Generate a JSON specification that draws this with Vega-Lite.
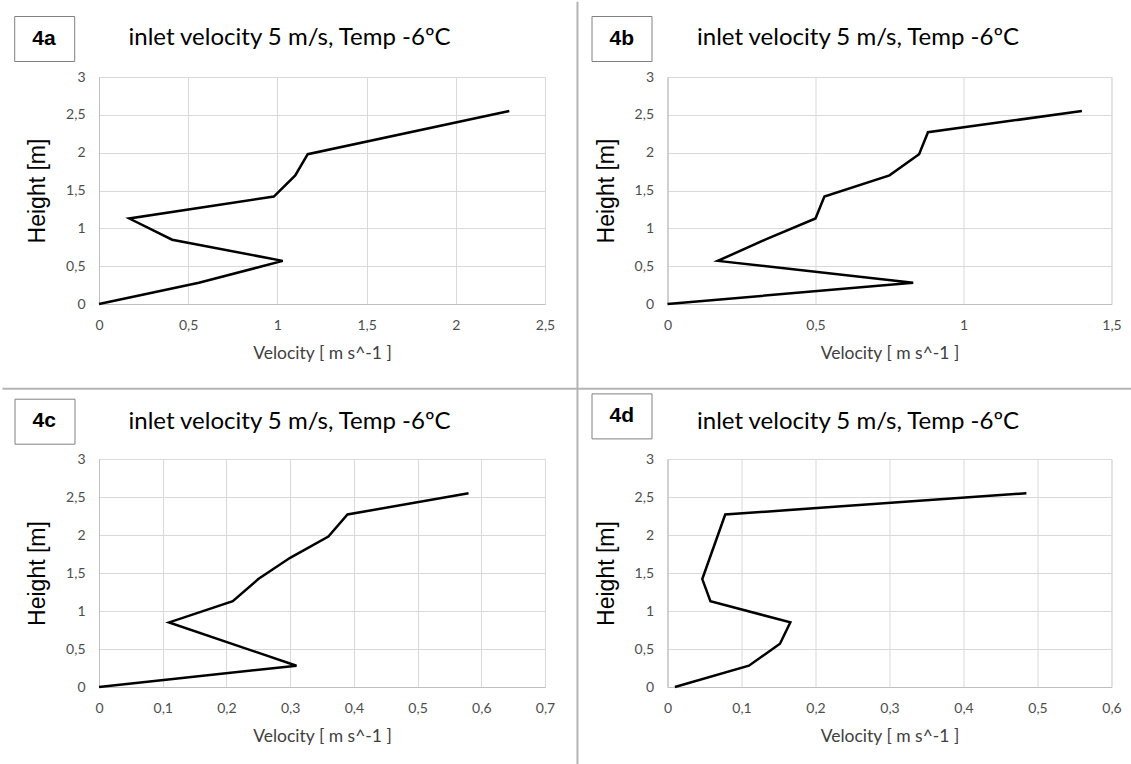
{
  "$schema": "https://vega.github.io/schema/vega-lite/v6.json",
  "padding": {"left": 0, "top": 0, "right": 0, "bottom": 10},
  "background": "white",
  "data": {"values": [
    {"panel": "4a", "v": 0, "h": 0},
    {"panel": "4a", "v": 0.56, "h": 0.28},
    {"panel": "4a", "v": 1.03, "h": 0.57},
    {"panel": "4a", "v": 0.41, "h": 0.85},
    {"panel": "4a", "v": 0.17, "h": 1.13},
    {"panel": "4a", "v": 0.98, "h": 1.42},
    {"panel": "4a", "v": 1.10, "h": 1.70},
    {"panel": "4a", "v": 1.17, "h": 1.98},
    {"panel": "4a", "v": 2.30, "h": 2.55},
    {"panel": "4b", "v": 0, "h": 0},
    {"panel": "4b", "v": 0.83, "h": 0.28},
    {"panel": "4b", "v": 0.17, "h": 0.57},
    {"panel": "4b", "v": 0.33, "h": 0.85},
    {"panel": "4b", "v": 0.50, "h": 1.13},
    {"panel": "4b", "v": 0.53, "h": 1.42},
    {"panel": "4b", "v": 0.75, "h": 1.70},
    {"panel": "4b", "v": 0.85, "h": 1.98},
    {"panel": "4b", "v": 0.88, "h": 2.27},
    {"panel": "4b", "v": 1.40, "h": 2.55},
    {"panel": "4c", "v": 0, "h": 0},
    {"panel": "4c", "v": 0.31, "h": 0.28},
    {"panel": "4c", "v": 0.11, "h": 0.85},
    {"panel": "4c", "v": 0.21, "h": 1.13},
    {"panel": "4c", "v": 0.25, "h": 1.42},
    {"panel": "4c", "v": 0.30, "h": 1.70},
    {"panel": "4c", "v": 0.36, "h": 1.98},
    {"panel": "4c", "v": 0.39, "h": 2.27},
    {"panel": "4c", "v": 0.58, "h": 2.55},
    {"panel": "4d", "v": 0.01, "h": 0},
    {"panel": "4d", "v": 0.11, "h": 0.28},
    {"panel": "4d", "v": 0.152, "h": 0.57},
    {"panel": "4d", "v": 0.166, "h": 0.85},
    {"panel": "4d", "v": 0.058, "h": 1.13},
    {"panel": "4d", "v": 0.047, "h": 1.42},
    {"panel": "4d", "v": 0.078, "h": 2.27},
    {"panel": "4d", "v": 0.485, "h": 2.55}
  ]},
  "columns": 2,
  "bounds": "flush",
  "spacing": {"row": 155, "column": 122.5},
  "resolve": {"scale": {"color": "independent", "x": "independent", "y": "independent"}, "legend": {"color": "independent"}},
  "concat": [
    {
      "width": 446, "height": 227,
      "title": {"text": "inlet velocity 5 m/s, Temp -6ºC", "offset": -49},
      "layer": [
        {
          "transform": [{"filter": "datum.panel === '4a'"}],
          "mark": {"type": "line", "strokeWidth": 2.5},
          "encoding": {
            "x": {"field": "v", "type": "quantitative", "scale": {"domain": [0, 2.5], "nice": false}, "axis": {"values": [0, 0.5, 1, 1.5, 2, 2.5], "title": "Velocity [ m s^-1 ]", "labelExpr": "replace(format(datum.value, '~g'), '.', ',')"}},
            "y": {"field": "h", "type": "quantitative", "scale": {"domain": [0, 3], "nice": false}, "axis": {"values": [0, 0.5, 1, 1.5, 2, 2.5, 3], "title": "Height [m]", "labelExpr": "replace(format(datum.value, '~g'), '.', ',')"}},
            "order": {"field": "h", "type": "quantitative"},
            "color": {"field": "panel", "type": "nominal", "scale": {"range": ["black"]}, "legend": {"title": null, "legendX": -84.8, "legendY": -61}}
          }
        },
        {
          "data": {"values": [{}]},
          "mark": {"type": "rule", "color": "#b4b4b4", "strokeWidth": 2},
          "encoding": {
            "x": {"datum": 2.682, "type": "quantitative", "axis": {"values": [0, 0.5, 1, 1.5, 2, 2.5], "title": "Velocity [ m s^-1 ]", "labelExpr": "replace(format(datum.value, '~g'), '.', ',')"}},
            "y": {"datum": 3.995, "type": "quantitative", "axis": {"values": [0, 0.5, 1, 1.5, 2, 2.5, 3], "title": "Height [m]", "labelExpr": "replace(format(datum.value, '~g'), '.', ',')"}},
            "y2": {"datum": -6.1}
          }
        },
        {
          "data": {"values": [{}]},
          "mark": {"type": "rule", "color": "#b4b4b4", "strokeWidth": 2},
          "encoding": {
            "x": {"datum": -0.541, "type": "quantitative", "axis": {"values": [0, 0.5, 1, 1.5, 2, 2.5], "title": "Velocity [ m s^-1 ]", "labelExpr": "replace(format(datum.value, '~g'), '.', ',')"}},
            "x2": {"datum": 5.79},
            "y": {"datum": -1.12, "type": "quantitative", "axis": {"values": [0, 0.5, 1, 1.5, 2, 2.5, 3], "title": "Height [m]", "labelExpr": "replace(format(datum.value, '~g'), '.', ',')"}}
          }
        }
      ]
    },
    {
      "width": 444, "height": 227,
      "title": {"text": "inlet velocity 5 m/s, Temp -6ºC", "offset": -34},
      "transform": [{"filter": "datum.panel === '4b'"}],
      "mark": {"type": "line", "strokeWidth": 2.5},
      "encoding": {
        "x": {"field": "v", "type": "quantitative", "scale": {"domain": [0, 1.5], "nice": false}, "axis": {"values": [0, 0.5, 1, 1.5], "title": "Velocity [ m s^-1 ]", "labelExpr": "replace(format(datum.value, '~g'), '.', ',')"}},
        "y": {"field": "h", "type": "quantitative", "scale": {"domain": [0, 3], "nice": false}, "axis": {"values": [0, 0.5, 1, 1.5, 2, 2.5, 3], "title": "Height [m]", "labelExpr": "replace(format(datum.value, '~g'), '.', ',')"}},
        "order": {"field": "h", "type": "quantitative"},
        "color": {"field": "panel", "type": "nominal", "scale": {"range": ["black"]}, "legend": {"title": null, "legendX": -76, "legendY": -61}}
      }
    },
    {
      "width": 446, "height": 228,
      "title": {"text": "inlet velocity 5 m/s, Temp -6ºC", "offset": -36},
      "transform": [{"filter": "datum.panel === '4c'"}],
      "mark": {"type": "line", "strokeWidth": 2.5},
      "encoding": {
        "x": {"field": "v", "type": "quantitative", "scale": {"domain": [0, 0.7], "nice": false}, "axis": {"values": [0, 0.1, 0.2, 0.3, 0.4, 0.5, 0.6, 0.7], "title": "Velocity [ m s^-1 ]", "labelExpr": "replace(format(datum.value, '~g'), '.', ',')"}},
        "y": {"field": "h", "type": "quantitative", "scale": {"domain": [0, 3], "nice": false}, "axis": {"values": [0, 0.5, 1, 1.5, 2, 2.5, 3], "title": "Height [m]", "labelExpr": "replace(format(datum.value, '~g'), '.', ',')"}},
        "order": {"field": "h", "type": "quantitative"},
        "color": {"field": "panel", "type": "nominal", "scale": {"range": ["black"]}, "legend": {"title": null, "legendX": -84.5, "legendY": -60.3}}
      }
    },
    {
      "width": 444, "height": 228,
      "title": {"text": "inlet velocity 5 m/s, Temp -6ºC", "offset": -41.3},
      "transform": [{"filter": "datum.panel === '4d'"}],
      "mark": {"type": "line", "strokeWidth": 2.5},
      "encoding": {
        "x": {"field": "v", "type": "quantitative", "scale": {"domain": [0, 0.6], "nice": false}, "axis": {"values": [0, 0.1, 0.2, 0.3, 0.4, 0.5, 0.6], "title": "Velocity [ m s^-1 ]", "labelExpr": "replace(format(datum.value, '~g'), '.', ',')"}},
        "y": {"field": "h", "type": "quantitative", "scale": {"domain": [0, 3], "nice": false}, "axis": {"values": [0, 0.5, 1, 1.5, 2, 2.5, 3], "title": "Height [m]", "labelExpr": "replace(format(datum.value, '~g'), '.', ',')"}},
        "order": {"field": "h", "type": "quantitative"},
        "color": {"field": "panel", "type": "nominal", "scale": {"range": ["black"]}, "legend": {"title": null, "legendX": -76, "legendY": -65.6}}
      }
    }
  ],
  "config": {
    "font": "Lato",
    "view": {"stroke": "#d9d9d9"},
    "axis": {"grid": true, "gridColor": "#d9d9d9", "domainColor": "#bfbfbf", "ticks": false, "tickSize": 0, "labelFlush": false, "labelFont": "Lato", "labelFontSize": 14, "labelColor": "#4d4d4d", "titleFontWeight": "normal"},
    "axisX": {"labelPadding": 14, "titleFont": "Lato", "titleFontSize": 17.5, "titleColor": "#404040", "titlePadding": 12},
    "axisY": {"labelPadding": 14, "titleFont": "Liberation Sans", "titleFontSize": 23, "titleColor": "black", "titlePadding": 16},
    "title": {"font": "Lato", "fontSize": 24, "fontWeight": "normal", "anchor": "start", "frame": "group", "dx": 29.5, "color": "black"},
    "legend": {"orient": "none", "strokeColor": "#808080", "fillColor": "white", "padding": 12, "symbolSize": 4, "symbolOpacity": 0, "symbolStrokeWidth": 0, "symbolType": "M-10.5,-1L25.5,-1L25.5,1L-10.5,1Z", "labelOffset": -15, "labelFont": "Liberation Sans", "labelFontSize": 21, "labelFontWeight": "bold", "labelColor": "black"}
  }
}
